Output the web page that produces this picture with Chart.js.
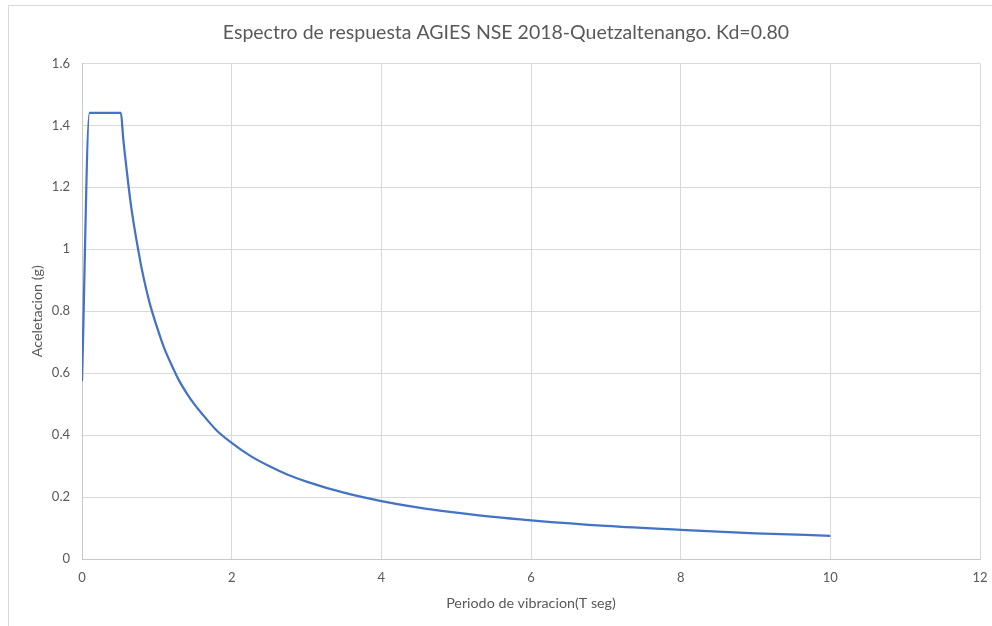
<!DOCTYPE html>
<html>
<head>
<meta charset="utf-8">
<script src="https://cdn.jsdelivr.net/npm/chart.js@4/dist/chart.umd.min.js"></script>
<style>
  html, body { margin: 0; padding: 0; background: #fff; overflow: hidden; }
  #marco { position: absolute; left: 8px; top: 5px; width: 2000px; height: 2000px; border: 1px solid #d9d9d9; }
  #caja { position: absolute; left: 0; top: 0; width: 992px; height: 626px; }
</style>
</head>
<body>
<div id="marco"></div>
<div id="caja"><canvas id="espectro"></canvas></div>
<script>
/*datos*/
var periodo = [0, 0.1, 0.52, 0.55, 0.6, 0.65, 0.7, 0.75, 0.8, 0.9, 1.0, 1.1, 1.2, 1.3, 1.4, 1.5, 1.6, 1.8, 2.0, 2.25, 2.5, 2.75, 3.0, 3.5, 4.0, 4.5, 5.0, 5.5, 6.0, 7.0, 8.0, 9.0, 10.0];
var aceleracion = [0.575, 1.44, 1.44, 1.36, 1.25, 1.15, 1.07, 1.0, 0.935, 0.83, 0.75, 0.68, 0.625, 0.575, 0.535, 0.5, 0.47, 0.415, 0.375, 0.333, 0.3, 0.272, 0.25, 0.214, 0.187, 0.166, 0.15, 0.136, 0.125, 0.107, 0.094, 0.083, 0.075];
var ticks_x = [0, 2, 4, 6, 8, 10, 12];
var ticks_y = [0, 0.2, 0.4, 0.6, 0.8, 1, 1.2, 1.4, 1.6];

var puntos = [];
for (var i = 0; i < periodo.length; i++) {
    puntos.push({x: periodo[i], y: aceleracion[i]});
}

Chart.defaults.font.family = "Lato, 'Liberation Sans', sans-serif";
Chart.defaults.color = '#595959';

var ctx = document.getElementById("espectro").getContext('2d');
var grafico = new Chart(ctx, {
    type: 'scatter',
    data: {
        datasets: [{
            data: puntos,
            showLine: true,
            borderColor: '#4472C4',
            borderWidth: 2.25,
            pointRadius: 0,
            cubicInterpolationMode: 'monotone',
            fill: false
        }]
    },
    options: {
        responsive: true,
        maintainAspectRatio: false,
        animation: false,
        layout: {
            padding: {left: 20, right: 0, top: 0, bottom: 0}
        },
        plugins: {
            legend: {display: false},
            tooltip: {enabled: false},
            title: {
                display: true,
                text: 'Espectro de respuesta AGIES NSE 2018-Quetzaltenango. Kd=0.80',
                color: '#595959',
                font: {size: 19.5, weight: 'normal'},
                padding: {top: 21, bottom: 19}
            }
        },
        scales: {
            x: {
                type: 'linear',
                min: 0,
                max: 12,
                afterBuildTicks: function(s) { s.ticks = ticks_x.map(function(v) { return {value: v}; }); },
                afterFit: function(s) { s.height = 67; s.paddingRight = 12; s.paddingLeft = 0; },
                ticks: {padding: 11, font: {size: 13}, color: '#595959'},
                grid: {color: '#d9d9d9', drawTicks: false},
                border: {color: '#c8c8c8'},
                title: {
                    display: true,
                    text: 'Periodo de vibracion(T seg)',
                    font: {size: 14.3},
                    color: '#595959',
                    padding: {top: 6, bottom: 14}
                }
            },
            y: {
                min: 0,
                max: 1.6,
                afterBuildTicks: function(s) { s.ticks = ticks_y.map(function(v) { return {value: v}; }); },
                afterFit: function(s) { s.width = 62; },
                ticks: {
                    padding: 12,
                    font: {size: 13},
                    color: '#595959',
                    callback: function(v) { return String(Math.round(v * 10) / 10); }
                },
                grid: {color: '#d9d9d9', drawTicks: false},
                border: {color: '#c8c8c8'},
                title: {
                    display: true,
                    text: 'Aceletacion (g)',
                    font: {size: 14.3},
                    color: '#595959',
                    padding: {top: 9, bottom: 0}
                }
            }
        }
    }
});
</script>
</body>
</html>
